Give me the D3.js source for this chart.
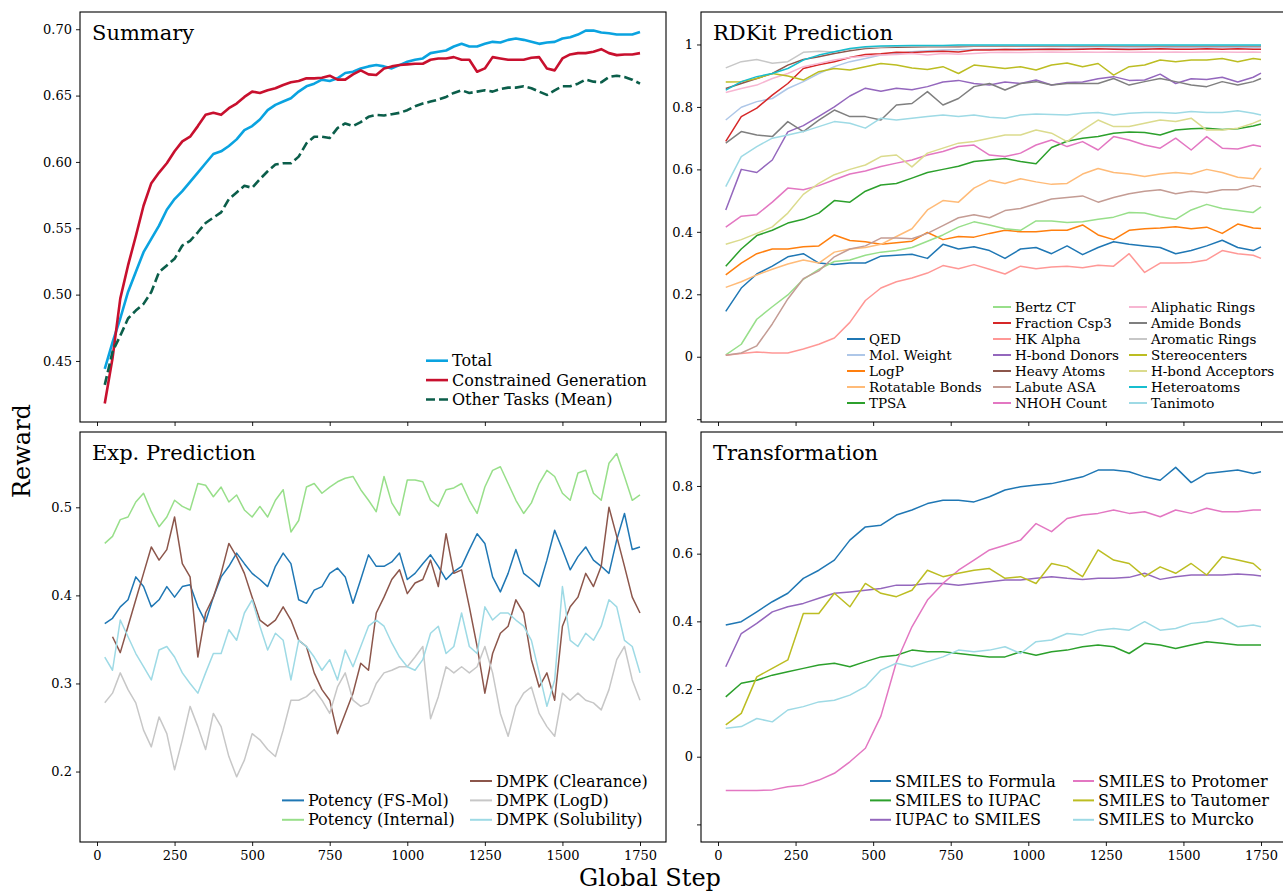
<!DOCTYPE html>
<html>
<head>
<meta charset="utf-8">
<script src="https://cdn.jsdelivr.net/npm/d3@7"></script>
<style>
    body { margin: 0; background: #fff; }
    svg { display: block; }
    text { font-family: "DejaVu Serif", serif; fill: #000; }
</style>
</head>
<body>
<svg id="chart" width="1283" height="892"></svg>
<script>
'use strict';

/*
    reward curves, four panels drawn with d3
*/

// sampling steps (x values)
var fineSteps = d3.range(25, 1751, 25);                  // 25, 50, ... 1750
var coarseSteps = d3.range(25, 1726, 50).concat([1750]); // 25, 75, ... 1725, 1750

// ---- Summary (fine steps)
var summaryNames = ['Total', 'Constrained Generation', 'Other Tasks (Mean)'];
var total = [0.444,0.464,0.482,0.502,0.517,0.532,0.542,0.552,0.564,0.572,
    0.578,0.585,0.592,0.599,0.606,0.608,0.612,0.617,0.624,0.627,
    0.632,0.639,0.643,0.6455,0.648,0.653,0.657,0.659,0.662,0.661,
    0.663,0.667,0.668,0.6705,0.672,0.673,0.672,0.6705,0.673,0.6755,
    0.677,0.678,0.682,0.683,0.684,0.687,0.689,0.687,0.687,0.689,
    0.6905,0.690,0.692,0.693,0.692,0.6905,0.689,0.690,0.6905,0.693,
    0.694,0.696,0.699,0.699,0.6975,0.697,0.696,0.696,0.696,0.698];
var constrained = [0.418,0.452,0.497,0.522,0.544,0.567,0.584,0.592,0.599,0.608,
    0.6155,0.619,0.627,0.6355,0.637,0.6355,0.6405,0.644,0.649,0.653,
    0.652,0.654,0.6555,0.658,0.660,0.661,0.663,0.663,0.6635,0.665,
    0.662,0.662,0.666,0.669,0.666,0.6655,0.6705,0.672,0.673,0.6735,
    0.674,0.674,0.677,0.678,0.678,0.679,0.677,0.677,0.668,0.6705,
    0.679,0.678,0.677,0.677,0.677,0.6785,0.679,0.6705,0.669,0.678,
    0.681,0.682,0.682,0.683,0.685,0.682,0.6805,0.681,0.681,0.682];
var otherTasks = [0.432,0.457,0.469,0.482,0.488,0.493,0.502,0.517,0.522,0.527,
    0.537,0.5405,0.547,0.554,0.558,0.562,0.572,0.577,0.582,0.5805,
    0.587,0.593,0.598,0.599,0.599,0.604,0.614,0.619,0.619,0.618,
    0.6255,0.629,0.627,0.630,0.634,0.6355,0.635,0.636,0.637,0.639,
    0.642,0.644,0.6455,0.647,0.649,0.652,0.654,0.652,0.653,0.654,
    0.653,0.655,0.656,0.656,0.657,0.6555,0.653,0.6505,0.654,0.657,
    0.657,0.659,0.662,0.6605,0.660,0.664,0.665,0.664,0.662,0.659];

// ---- RDKit Prediction (coarse steps)
var rdkitNames = ['QED', 'Mol. Weight', 'LogP', 'Rotatable Bonds', 'TPSA',
    'Bertz CT', 'Fraction Csp3', 'HK Alpha', 'H-bond Donors', 'Heavy Atoms', 'Labute ASA', 'NHOH Count',
    'Aliphatic Rings', 'Amide Bonds', 'Aromatic Rings', 'Stereocenters', 'H-bond Acceptors', 'Heteroatoms', 'Tanimoto'];
var qed = [0.145,0.22,0.265,0.29,0.32,0.33,0.3,0.295,0.3,0.3,
    0.322,0.325,0.328,0.315,0.36,0.345,0.352,0.34,0.315,0.345,
    0.35,0.33,0.355,0.327,0.35,0.368,0.36,0.355,0.35,0.33,
    0.34,0.355,0.373,0.35,0.34,0.352];
var molWeight = [0.758,0.799,0.817,0.827,0.859,0.881,0.907,0.929,0.945,0.955,
    0.966,0.971,0.977,0.98,0.982,0.983,0.984,0.985,0.985,0.986,
    0.986,0.987,0.987,0.988,0.988,0.988,0.989,0.989,0.989,0.99,
    0.99,0.99,0.99,0.99,0.99,0.99];
var logP = [0.262,0.3,0.33,0.345,0.345,0.352,0.355,0.39,0.372,0.368,
    0.36,0.365,0.37,0.398,0.375,0.385,0.383,0.395,0.405,0.4,
    0.4,0.405,0.405,0.422,0.39,0.375,0.405,0.41,0.412,0.416,
    0.41,0.415,0.395,0.425,0.412,0.411];
var rotatable = [0.222,0.24,0.262,0.28,0.297,0.31,0.3,0.335,0.345,0.35,
    0.36,0.385,0.41,0.47,0.5,0.495,0.54,0.565,0.555,0.57,
    0.56,0.552,0.555,0.585,0.603,0.59,0.585,0.577,0.585,0.59,
    0.585,0.6,0.59,0.575,0.57,0.605];
var tpsa = [0.29,0.345,0.388,0.405,0.428,0.44,0.46,0.5,0.495,0.53,
    0.55,0.555,0.572,0.59,0.6,0.61,0.625,0.63,0.635,0.625,
    0.618,0.67,0.69,0.7,0.705,0.716,0.72,0.718,0.71,0.726,
    0.73,0.732,0.728,0.73,0.739,0.745];
var bertz = [0.006,0.04,0.12,0.16,0.198,0.248,0.28,0.305,0.31,0.325,
    0.335,0.34,0.35,0.37,0.39,0.415,0.432,0.422,0.41,0.405,
    0.435,0.435,0.43,0.432,0.44,0.447,0.462,0.46,0.448,0.44,
    0.47,0.488,0.475,0.468,0.462,0.48];
var fractionCsp3 = [0.69,0.769,0.796,0.838,0.875,0.923,0.935,0.945,0.958,0.968,
    0.97,0.975,0.974,0.977,0.978,0.976,0.982,0.982,0.984,0.983,
    0.984,0.985,0.984,0.985,0.986,0.985,0.984,0.985,0.986,0.985,
    0.985,0.986,0.985,0.986,0.985,0.985];
var hkAlpha = [0.005,0.01,0.015,0.012,0.012,0.025,0.04,0.06,0.11,0.18,
    0.22,0.24,0.252,0.268,0.292,0.282,0.295,0.28,0.265,0.29,
    0.282,0.287,0.29,0.285,0.293,0.29,0.33,0.27,0.3,0.3,
    0.302,0.31,0.34,0.33,0.325,0.315];
var hbondDonors = [0.47,0.6,0.59,0.63,0.72,0.74,0.77,0.8,0.835,0.86,
    0.85,0.86,0.855,0.865,0.88,0.885,0.875,0.87,0.88,0.875,
    0.886,0.87,0.878,0.88,0.89,0.897,0.885,0.886,0.905,0.875,
    0.89,0.888,0.895,0.88,0.895,0.908];
var heavyAtoms = [0.859,0.875,0.891,0.907,0.934,0.952,0.961,0.971,0.98,0.987,
    0.99,0.991,0.992,0.993,0.993,0.993,0.994,0.994,0.994,0.994,
    0.994,0.994,0.994,0.994,0.994,0.994,0.994,0.994,0.994,0.994,
    0.994,0.994,0.994,0.994,0.994,0.994];
var labute = [0.005,0.012,0.035,0.105,0.185,0.25,0.275,0.32,0.345,0.355,
    0.38,0.38,0.378,0.395,0.42,0.445,0.455,0.445,0.468,0.475,
    0.49,0.505,0.51,0.515,0.495,0.51,0.522,0.53,0.535,0.522,
    0.53,0.525,0.535,0.535,0.548,0.544];
var nhoh = [0.415,0.45,0.455,0.495,0.54,0.535,0.548,0.567,0.585,0.595,
    0.609,0.62,0.63,0.646,0.657,0.673,0.678,0.646,0.641,0.652,
    0.678,0.694,0.673,0.689,0.662,0.705,0.694,0.678,0.668,0.7,
    0.662,0.705,0.668,0.665,0.678,0.673];
var aliphatic = [0.846,0.859,0.87,0.891,0.907,0.929,0.939,0.95,0.958,0.962,
    0.966,0.968,0.971,0.966,0.971,0.969,0.971,0.974,0.975,0.974,
    0.975,0.976,0.975,0.976,0.975,0.976,0.975,0.976,0.975,0.976,
    0.975,0.976,0.976,0.975,0.976,0.975];
var amide = [0.684,0.721,0.71,0.705,0.753,0.721,0.758,0.79,0.769,0.769,
    0.758,0.806,0.811,0.849,0.806,0.827,0.865,0.875,0.854,0.875,
    0.881,0.87,0.875,0.875,0.875,0.891,0.87,0.881,0.891,0.881,
    0.87,0.865,0.881,0.87,0.881,0.891];
var aromatic = [0.925,0.945,0.952,0.94,0.945,0.975,0.978,0.976,0.985,0.99,
    0.992,0.994,0.995,0.995,0.995,0.996,0.996,0.996,0.996,0.996,
    0.996,0.996,0.996,0.996,0.996,0.996,0.996,0.996,0.996,0.996,
    0.996,0.996,0.996,0.996,0.996,0.996];
var stereo = [0.88,0.881,0.891,0.907,0.899,0.886,0.913,0.923,0.918,0.929,
    0.939,0.934,0.925,0.92,0.929,0.907,0.934,0.929,0.923,0.929,
    0.918,0.934,0.941,0.929,0.939,0.902,0.929,0.934,0.95,0.945,
    0.95,0.95,0.955,0.945,0.955,0.952];
var hbondAcceptors = [0.36,0.375,0.395,0.416,0.46,0.52,0.555,0.583,0.6,0.614,
    0.641,0.646,0.608,0.652,0.668,0.684,0.689,0.7,0.71,0.71,
    0.726,0.716,0.689,0.726,0.758,0.737,0.737,0.748,0.758,0.753,
    0.764,0.726,0.726,0.732,0.748,0.758];
var heteroatoms = [0.854,0.881,0.897,0.907,0.923,0.95,0.966,0.977,0.987,0.993,
    0.995,0.996,0.997,0.997,0.997,0.998,0.998,0.998,0.998,0.998,
    0.998,0.998,0.998,0.998,0.998,0.998,0.998,0.998,0.998,0.998,
    0.998,0.998,0.998,0.998,0.998,0.998];
var tanimoto = [0.545,0.641,0.673,0.7,0.71,0.721,0.737,0.753,0.748,0.732,
    0.764,0.758,0.764,0.769,0.774,0.769,0.774,0.767,0.764,0.774,
    0.777,0.776,0.774,0.78,0.782,0.774,0.78,0.782,0.782,0.78,
    0.785,0.782,0.782,0.788,0.78,0.774];

// ---- Exp. Prediction (fine steps)
var expNames = ['Potency (FS-Mol)', 'Potency (Internal)', 'DMPK (Clearance)', 'DMPK (LogD)', 'DMPK (Solubility)'];
var potencyFsMol = [0.368,0.374,0.387,0.395,0.421,0.41,0.387,0.395,0.41,0.398,
    0.41,0.412,0.387,0.37,0.398,0.421,0.433,0.448,0.436,0.425,
    0.418,0.41,0.433,0.448,0.436,0.395,0.391,0.406,0.41,0.425,
    0.431,0.421,0.391,0.418,0.446,0.433,0.433,0.438,0.448,0.418,
    0.425,0.436,0.446,0.433,0.418,0.427,0.433,0.452,0.47,0.459,
    0.421,0.404,0.425,0.452,0.425,0.418,0.41,0.44,0.474,0.452,
    0.429,0.444,0.455,0.44,0.433,0.425,0.463,0.493,0.452,0.455];
var potencyInternal = [0.459,0.467,0.486,0.489,0.506,0.516,0.495,0.478,0.489,0.508,
    0.501,0.497,0.527,0.525,0.512,0.523,0.506,0.514,0.497,0.489,
    0.501,0.489,0.508,0.52,0.472,0.485,0.523,0.527,0.516,0.523,
    0.529,0.533,0.535,0.52,0.508,0.495,0.535,0.505,0.491,0.531,
    0.531,0.529,0.508,0.501,0.52,0.522,0.527,0.508,0.493,0.523,
    0.542,0.546,0.527,0.508,0.493,0.505,0.527,0.542,0.535,0.516,
    0.508,0.539,0.542,0.516,0.508,0.55,0.561,0.535,0.508,0.514];
var clearance = [null,0.353,0.335,0.365,0.395,0.425,0.455,0.44,0.452,0.489,
    0.436,0.421,0.33,0.38,0.398,0.425,0.459,0.444,0.425,0.398,
    0.372,0.365,0.372,0.387,0.372,0.349,0.342,0.312,0.293,0.281,
    0.243,0.266,0.289,0.323,0.315,0.38,0.398,0.418,0.429,0.402,
    0.414,0.418,0.44,0.41,0.47,0.425,0.429,0.387,0.342,0.289,
    0.334,0.357,0.365,0.395,0.38,0.327,0.296,0.312,0.281,0.365,
    0.387,0.398,0.425,0.41,0.433,0.5,0.467,0.433,0.398,0.38];
var logD = [0.278,0.289,0.312,0.293,0.278,0.247,0.228,0.262,0.243,0.202,
    0.236,0.274,0.251,0.225,0.266,0.251,0.217,0.194,0.213,0.243,
    0.236,0.225,0.217,0.247,0.281,0.281,0.285,0.293,0.281,0.266,
    0.296,0.312,0.281,0.274,0.278,0.3,0.312,0.315,0.319,0.319,
    0.33,0.342,0.26,0.285,0.319,0.312,0.319,0.312,0.319,0.342,
    0.312,0.266,0.24,0.274,0.289,0.296,0.266,0.251,0.24,0.289,
    0.281,0.289,0.281,0.278,0.27,0.293,0.327,0.342,0.304,0.281];
var solubility = [0.33,0.315,0.372,0.353,0.334,0.319,0.304,0.338,0.342,0.33,
    0.312,0.3,0.289,0.312,0.334,0.334,0.361,0.349,0.38,0.395,
    0.365,0.338,0.357,0.349,0.304,0.349,0.342,0.33,0.315,0.327,
    0.304,0.338,0.319,0.342,0.365,0.372,0.365,0.346,0.33,0.319,
    0.315,0.327,0.357,0.365,0.334,0.342,0.38,0.342,0.334,0.387,
    0.372,0.38,0.38,0.372,0.365,0.349,0.312,0.274,0.304,0.41,
    0.349,0.342,0.357,0.349,0.365,0.395,0.387,0.349,0.342,0.312];

// ---- Transformation (coarse steps)
var transNames = ['SMILES to Formula', 'SMILES to IUPAC', 'IUPAC to SMILES',
    'SMILES to Protomer', 'SMILES to Tautomer', 'SMILES to Murcko'];
var toFormula = [0.389,0.399,0.428,0.458,0.483,0.527,0.551,0.581,0.64,0.679,
    0.684,0.714,0.729,0.748,0.758,0.758,0.753,0.768,0.788,0.798,
    0.803,0.807,0.817,0.827,0.847,0.847,0.842,0.827,0.817,0.855,
    0.81,0.837,0.842,0.847,0.837,0.842];
var toIupac = [0.177,0.217,0.226,0.241,0.251,0.261,0.271,0.276,0.266,0.281,
    0.295,0.3,0.315,0.31,0.31,0.305,0.3,0.295,0.295,0.31,
    0.3,0.31,0.315,0.325,0.33,0.325,0.305,0.335,0.33,0.32,
    0.33,0.34,0.335,0.33,0.33,0.33];
var iupacToSmiles = [0.266,0.364,0.394,0.428,0.443,0.453,0.468,0.483,0.487,0.492,
    0.497,0.507,0.507,0.512,0.512,0.507,0.512,0.517,0.522,0.522,
    0.527,0.532,0.527,0.524,0.527,0.527,0.53,0.542,0.524,0.532,
    0.537,0.537,0.537,0.54,0.537,0.534];
var toProtomer = [-0.1,-0.1,-0.1,-0.098,-0.089,-0.084,-0.069,-0.049,-0.015,0.025,
    0.12,0.28,0.384,0.463,0.512,0.551,0.581,0.611,0.625,0.64,
    0.689,0.665,0.704,0.714,0.719,0.729,0.719,0.724,0.709,0.729,
    0.719,0.734,0.724,0.724,0.729,0.729];
var toTautomer = [0.094,0.128,0.236,0.261,0.286,0.423,0.423,0.483,0.443,0.512,
    0.483,0.473,0.492,0.551,0.532,0.542,0.551,0.556,0.527,0.532,
    0.512,0.571,0.561,0.532,0.611,0.581,0.571,0.532,0.561,0.542,
    0.571,0.537,0.591,0.581,0.571,0.551];
var toMurcko = [0.084,0.089,0.113,0.103,0.138,0.148,0.162,0.167,0.182,0.207,
    0.256,0.276,0.266,0.281,0.295,0.315,0.31,0.315,0.325,0.305,
    0.34,0.345,0.364,0.36,0.374,0.379,0.374,0.399,0.374,0.379,
    0.394,0.399,0.409,0.384,0.389,0.384];

// tick labels
var xTicks = [0, 250, 500, 750, 1000, 1250, 1500, 1750];

var svg = d3.select('#chart');

var drawPanel = function(cfg) {
    var g = svg.append('g').attr('transform', 'translate(' + cfg.left + ',' + cfg.top + ')');
    var w = 586, h = 410;

    var x = d3.scaleLinear().domain([0, 1750]).range([17, 560]);
    var y = d3.scaleLinear().domain(cfg.yDomain).range([h, 0]);

    // axes
    var yAxis = d3.axisLeft(y).tickValues(cfg.yTicks).tickSize(4).tickPadding(4)
        .tickFormat(function(d) { return cfg.yLabel(d); });
    var xAxis = d3.axisBottom(x).tickValues(xTicks).tickSize(4).tickPadding(5)
        .tickFormat(cfg.showX ? d3.format('d') : function() { return ''; });

    var ya = g.append('g').call(yAxis);
    var xa = g.append('g').attr('transform', 'translate(0,' + h + ')').call(xAxis);
    [ya, xa].forEach(function(a) {
        a.select('.domain').remove();
        a.selectAll('text').style('font-family', '"DejaVu Serif", serif').style('font-size', '13px').attr('fill', '#000');
        a.selectAll('line').attr('stroke', '#000').attr('stroke-width', 0.9);
    });

    // lines
    var line = d3.line()
        .defined(function(d) { return d[1] != null; })
        .x(function(d) { return x(d[0]); })
        .y(function(d) { return y(d[1]); });

    cfg.series.forEach(function(s) {
        var pts = cfg.steps.map(function(st, i) { return [st, s.values[i]]; });
        g.append('path')
            .attr('d', line(pts))
            .attr('fill', 'none')
            .attr('stroke', s.color)
            .attr('stroke-width', s.width || 1.5)
            .attr('stroke-dasharray', s.dash || null)
            .attr('stroke-linejoin', 'round');
    });

    // frame
    g.append('rect').attr('width', w).attr('height', h)
        .attr('fill', 'none').attr('stroke', '#000').attr('stroke-width', 1.1);

    // title
    g.append('text').attr('x', 12).attr('y', 28).style('font-size', '21px').text(cfg.title);

    // legend
    var lg = cfg.legend;
    cfg.series.forEach(function(s, i) {
        var col = lg.cols[i], row = lg.rows[i];
        var ly = lg.y0 + row * lg.dy;
        g.append('line')
            .attr('x1', lg.colX[col]).attr('x2', lg.colX[col] + lg.handle)
            .attr('y1', ly).attr('y2', ly)
            .attr('stroke', s.color)
            .attr('stroke-width', s.width || 2)
            .attr('stroke-dasharray', s.dash || null);
        g.append('text')
            .attr('x', lg.colX[col] + lg.handle + 4)
            .attr('y', ly)
            .attr('dy', '0.35em')
            .style('font-size', lg.size + 'px')
            .text(s.name);
    });
};

var twoDec = d3.format('.2f');
var plain = function(d) { return d < -0.01 ? '' : d3.format('~g')(d); };

/* Summary */
drawPanel({
    left: 80, top: 12, title: 'Summary', showX: false,
    yDomain: [0.404, 0.713], yTicks: [0.45, 0.5, 0.55, 0.6, 0.65, 0.7], yLabel: twoDec,
    steps: fineSteps,
    series: [
        { name: summaryNames[0], values: total, color: '#0aa3e0', width: 2.6 },
        { name: summaryNames[1], values: constrained, color: '#c8102e', width: 2.6 },
        { name: summaryNames[2], values: otherTasks, color: '#0b5e4a', width: 2.6, dash: '9,4' }
    ],
    legend: { colX: [346], handle: 22, y0: 348.7, dy: 19.4, size: 16,
        cols: [0, 0, 0], rows: [0, 1, 2] }
});

/* RDKit Prediction */
var rdkitValues = [qed, molWeight, logP, rotatable, tpsa, bertz, fractionCsp3, hkAlpha, hbondDonors,
    heavyAtoms, labute, nhoh, aliphatic, amide, aromatic, stereo, hbondAcceptors, heteroatoms, tanimoto];
var rdkitColors = ['#1f77b4', '#aec7e8', '#ff7f0e', '#ffbb78', '#2ca02c', '#98df8a', '#d62728', '#ff9896',
    '#9467bd', '#8c564b', '#c49c94', '#e377c2', '#f7b6d2', '#7f7f7f', '#c7c7c7', '#bcbd22', '#dbdb8d',
    '#17becf', '#9edae5'];
drawPanel({
    left: 701, top: 12, title: 'RDKit Prediction', showX: false,
    yDomain: [-0.209, 1.104], yTicks: [-0.2, 0, 0.2, 0.4, 0.6, 0.8, 1], yLabel: plain,
    steps: coarseSteps,
    series: rdkitNames.map(function(n, i) { return { name: n, values: rdkitValues[i], color: rdkitColors[i] }; }),
    legend: { colX: [146, 292, 428], handle: 18, y0: 295, dy: 16, size: 13.5,
        cols: [0,0,0,0,0, 1,1,1,1,1,1,1, 2,2,2,2,2,2,2],
        rows: [2,3,4,5,6, 0,1,2,3,4,5,6, 0,1,2,3,4,5,6] }
});

/* Exp. Prediction */
drawPanel({
    left: 80, top: 432, title: 'Exp. Prediction', showX: true,
    yDomain: [0.12, 0.5855], yTicks: [0.2, 0.3, 0.4, 0.5], yLabel: d3.format('.1f'),
    steps: fineSteps,
    series: [
        { name: expNames[0], values: potencyFsMol, color: '#1f77b4' },
        { name: expNames[1], values: potencyInternal, color: '#98df8a' },
        { name: expNames[2], values: clearance, color: '#8c564b' },
        { name: expNames[3], values: logD, color: '#c7c7c7' },
        { name: expNames[4], values: solubility, color: '#9edae5' }
    ],
    legend: { colX: [202, 390], handle: 22, y0: 349, dy: 19.4, size: 16,
        cols: [0, 0, 1, 1, 1], rows: [1, 2, 0, 1, 2] }
});

/* Transformation */
drawPanel({
    left: 701, top: 432, title: 'Transformation', showX: true,
    yDomain: [-0.252, 0.9595], yTicks: [-0.2, 0, 0.2, 0.4, 0.6, 0.8], yLabel: plain,
    steps: coarseSteps,
    series: [
        { name: transNames[0], values: toFormula, color: '#1f77b4' },
        { name: transNames[1], values: toIupac, color: '#2ca02c' },
        { name: transNames[2], values: iupacToSmiles, color: '#9467bd' },
        { name: transNames[3], values: toProtomer, color: '#e377c2' },
        { name: transNames[4], values: toTautomer, color: '#bcbd22' },
        { name: transNames[5], values: toMurcko, color: '#9edae5' }
    ],
    legend: { colX: [169, 372], handle: 21, y0: 349, dy: 19.4, size: 16,
        cols: [0, 0, 0, 1, 1, 1], rows: [0, 1, 2, 0, 1, 2] }
});

/* shared axis labels */
svg.append('text')
    .attr('transform', 'translate(30,451) rotate(-90)')
    .attr('text-anchor', 'middle')
    .style('font-size', '24px')
    .text('Reward');

svg.append('text')
    .attr('x', 650).attr('y', 886)
    .attr('text-anchor', 'middle')
    .style('font-size', '24px')
    .text('Global Step');
</script>
</body>
</html>
